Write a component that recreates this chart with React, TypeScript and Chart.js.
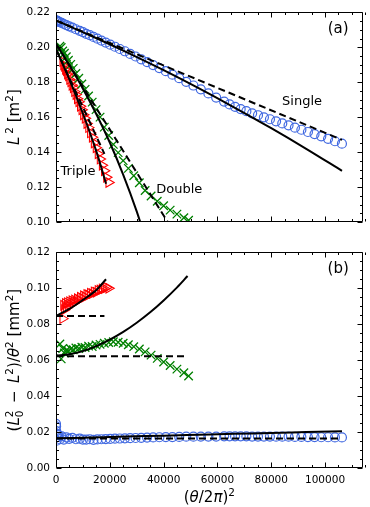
import React, { useEffect, useRef } from 'react';
import { Chart, registerables } from 'chart.js';
Chart.register(...registerables);

const FONT = '"DejaVu Sans", "Liberation Sans", sans-serif';
const BLUE = '#4169e1';
const GREEN = '#008000';
const RED = '#ff0000';

// ---------------- data: Single ----------------
const singleX = [4, 36, 100, 196, 324, 576, 900, 1444, 2116, 2916, 3844, 4900, 6084, 7396, 8836, 10000,
  11236, 12544, 13924, 15376, 16900, 18496, 20164, 21904, 23716, 25600, 27556, 29584, 31684, 33856, 36100, 38416, 40804, 43264, 45796, 48400, 51076, 53824, 56644, 59536,
  62500, 64516, 66564, 68644, 70756, 72900, 75076, 77284, 79524, 81796, 84100, 86436, 88804, 91204, 93636, 96100, 98596, 101124, 103684, 106276];
const singleL2 = [0.2153, 0.2153, 0.2152, 0.2152, 0.2151, 0.2149, 0.2147, 0.2143, 0.2139, 0.2133, 0.2127, 0.2120, 0.2112, 0.2103, 0.2094, 0.2086,
  0.2077, 0.2069, 0.2059, 0.2049, 0.2038, 0.2027, 0.2015, 0.2003, 0.1990, 0.1977, 0.1962, 0.1947, 0.1931, 0.1915, 0.1898, 0.1881, 0.1863, 0.1843, 0.1823, 0.1802, 0.1781, 0.1759, 0.1736, 0.1712,
  0.1689, 0.1673, 0.1659, 0.1646, 0.1634, 0.1622, 0.1611, 0.1599, 0.1588, 0.1576, 0.1564, 0.1553, 0.1540, 0.1528, 0.1515, 0.1503, 0.1490, 0.1476, 0.1462, 0.1448];
const singleRatio = [0.0245, 0.0232, 0.0205, 0.0152, 0.0190, 0.0172, 0.0183, 0.0160, 0.0176, 0.0158, 0.0170, 0.0162, 0.0168, 0.0160, 0.0163, 0.0158,
  0.0158, 0.0160, 0.0157, 0.0159, 0.0160, 0.0161, 0.0162, 0.0163, 0.0164, 0.0165, 0.0166, 0.0167, 0.0168, 0.0169, 0.0170, 0.0171, 0.0172, 0.0172, 0.0173, 0.0174, 0.0174, 0.0175, 0.0175, 0.0175,
  0.0176, 0.0176, 0.0176, 0.0176, 0.0176, 0.0175, 0.0175, 0.0175, 0.0175, 0.0174, 0.0174, 0.0174, 0.0173, 0.0173, 0.0172, 0.0172, 0.0171, 0.0171, 0.0170, 0.0170];
const singleCurveX = [0, 13000, 26000, 40000, 53000, 66000, 80000, 93000, 106300];
const singleCurveA = [0.2153, 0.2066, 0.1974, 0.1869, 0.1766, 0.1658, 0.1537, 0.1419, 0.1293];
const singleCurveB = [0.0165, 0.0170, 0.0175, 0.0180, 0.0185, 0.0190, 0.0195, 0.0200, 0.0205];
const singleLineX = [0, 106300];
const singleLineA = [0.2153, 0.1470];
const singleLineB = [0.0164, 0.0164];

// ---------------- data: Double ----------------
const doubleX = [1444, 1936, 2500, 3136, 3844, 4624, 5476, 6400, 7396, 8464, 9604, 10816, 12100, 13456, 14884, 16384,
  17956, 19600, 21316, 23104, 24964, 26896, 28900, 30976, 33124, 35344, 37636, 40000, 42436, 44944, 47524, 49284];
const doubleL2 = [0.2006, 0.1999, 0.1979, 0.1966, 0.1946, 0.1926, 0.1902, 0.1879, 0.1850, 0.1823, 0.1790, 0.1759, 0.1721, 0.1686, 0.1643, 0.1600,
  0.1543, 0.1495, 0.1444, 0.1397, 0.1351, 0.1307, 0.1265, 0.1225, 0.1180, 0.1149, 0.1119, 0.1093, 0.1068, 0.1045, 0.1024, 0.1010];
const doubleRatio = [0.0690, 0.0607, 0.0665, 0.0640, 0.0655, 0.0650, 0.0662, 0.0658, 0.0668, 0.0665, 0.0672, 0.0670, 0.0678, 0.0676, 0.0684, 0.0688,
  0.0694, 0.0698, 0.0702, 0.0700, 0.0694, 0.0686, 0.0675, 0.0662, 0.0646, 0.0628, 0.0610, 0.0590, 0.0570, 0.0550, 0.0530, 0.0512];
const doubleCurveAX = [0, 5000, 10000, 15000, 20000, 25000, 30000, 33000];
const doubleCurveA = [0.2020, 0.1895, 0.1763, 0.1617, 0.1455, 0.1270, 0.1061, 0.0918];
const doubleCurveBX = [0, 5000, 10000, 15000, 20000, 25000, 30000, 35000, 40000, 45000, 48900];
const doubleCurveB = [0.0625, 0.0633, 0.0650, 0.0678, 0.0714, 0.0757, 0.0808, 0.0866, 0.0932, 0.1005, 0.1068];
const doubleLineX = [0, 48900];
const doubleLineA = [0.2020, 0.0819];
const doubleLineB = [0.0622, 0.0622];

// ---------------- data: Triple ----------------
const tripleX = [2500, 2809, 3136, 3481, 3844, 4225, 4624, 5041, 5476, 5929, 6400, 6889, 7396, 7921, 8464, 9025,
  9604, 10201, 10816, 11449, 12100, 12769, 13456, 14161, 14884, 15625, 16384, 17161, 17956, 18769, 19600];
const tripleL2 = [0.1918, 0.1900, 0.1891, 0.1874, 0.1865, 0.1847, 0.1836, 0.1816, 0.1803, 0.1782, 0.1768, 0.1746, 0.1730, 0.1705, 0.1688, 0.1662,
  0.1642, 0.1614, 0.1594, 0.1564, 0.1540, 0.1510, 0.1485, 0.1452, 0.1425, 0.1391, 0.1360, 0.1325, 0.1293, 0.1256, 0.1226];
const tripleRatio = [0.0831, 0.0905, 0.0880, 0.0915, 0.0890, 0.0920, 0.0900, 0.0925, 0.0910, 0.0930, 0.0918, 0.0935, 0.0925, 0.0942, 0.0935, 0.0950,
  0.0945, 0.0958, 0.0952, 0.0965, 0.0962, 0.0972, 0.0970, 0.0980, 0.0978, 0.0988, 0.0990, 0.0996, 0.0998, 0.1004, 0.1000];
const tripleCurveX = [0, 5000, 10000, 15000, 18600];
const tripleCurveA = [0.1990, 0.1815, 0.1621, 0.1404, 0.1219];
const tripleCurveB = [0.0846, 0.0885, 0.0935, 0.0990, 0.1050];
const tripleLineX = [0, 18000];
const tripleLineA = [0.1990, 0.1390];
const tripleLineB = [0.0845, 0.0845];

// ---------------- axes ----------------
const xRange = [0, 114000];
const xTickVals = [0, 20000, 40000, 60000, 80000, 100000];
const yRangeA = [0.10, 0.22];
const yTickValsA = [0.10, 0.12, 0.14, 0.16, 0.18, 0.20, 0.22];
const yRangeB = [0.00, 0.12];
const yTickValsB = [0.00, 0.02, 0.04, 0.06, 0.08, 0.10, 0.12];
const seriesNames = ['Single', 'Double', 'Triple'];

// label anchors (data coords) for panel (a)
const nameAnchors = [
  { x: 91450, y: 0.1691 },
  { x: 45800, y: 0.1188 },
  { x: 8180, y: 0.1287 },
];

type Seg = { t: string; i?: boolean; pos?: 'sup' | 'sub'; hold?: boolean };

function drawRich(ctx: CanvasRenderingContext2D, segs: Seg[], cx: number, cy: number, size: number, rot: boolean) {
  const fontOf = (s: Seg) => `${s.i ? 'italic ' : ''}${s.pos ? size * 0.7 : size}px ${FONT}`;
  const ws = segs.map((s) => { ctx.font = fontOf(s); return ctx.measureText(s.t).width; });
  let total = 0;
  segs.forEach((s, k) => { if (!s.hold) total += ws[k]; });
  ctx.save();
  ctx.translate(cx, cy);
  if (rot) ctx.rotate(-Math.PI / 2);
  ctx.fillStyle = '#000';
  ctx.textAlign = 'left';
  ctx.textBaseline = 'alphabetic';
  let x = -total / 2;
  const base = size * 0.36;
  segs.forEach((s, k) => {
    ctx.font = fontOf(s);
    const dy = s.pos === 'sup' ? -size * 0.42 : s.pos === 'sub' ? size * 0.22 : 0;
    ctx.fillText(s.t, x, base + dy);
    if (!s.hold) x += ws[k];
  });
  ctx.restore();
}

const titleA: Seg[] = [{ t: 'L', i: true }, { t: '\u2009' }, { t: '2', pos: 'sup' }, { t: ' [m' }, { t: '2', pos: 'sup' }, { t: ']' }];
const titleB: Seg[] = [{ t: '(' }, { t: 'L', i: true }, { t: '0', pos: 'sub', hold: true }, { t: '2', pos: 'sup' }, { t: '\u2002\u2212\u2002' },
  { t: 'L', i: true }, { t: '2', pos: 'sup' }, { t: ')/' }, { t: '\u03b8', i: true }, { t: '2', pos: 'sup' }, { t: ' [mm' }, { t: '2', pos: 'sup' }, { t: ']' }];
const titleX: Seg[] = [{ t: '(' }, { t: '\u03b8', i: true }, { t: '/2' }, { t: '\u03c0', i: true }, { t: ')' }, { t: '2', pos: 'sup' }];

const decor = {
  id: 'decor',
  afterDraw(chart: any, _args: any, o: any) {
    const { ctx, chartArea: a, scales } = chart;
    const xs = scales.x;
    const ys = scales.y;
    ctx.save();
    ctx.strokeStyle = '#000';
    ctx.lineWidth = 1;
    const L = Math.round(a.left) + 0.5;
    const R = Math.round(a.right) - 0.5;
    const T = Math.round(a.top) + 0.5;
    const B = Math.round(a.bottom) - 0.5;
    ctx.beginPath();
    ctx.rect(L, T, R - L, B - T);
    const nx = Math.round((xs.max - xs.min) / 5000);
    for (let k = 0; k <= nx; k++) {
      const v = xs.min + k * 5000;
      const len = k % 4 === 0 ? 5 : 2.5;
      const p = Math.round(xs.getPixelForValue(v)) + 0.5;
      ctx.moveTo(p, B); ctx.lineTo(p, B - len);
      ctx.moveTo(p, T); ctx.lineTo(p, T + len);
    }
    const ny = Math.round((ys.max - ys.min) / 0.005);
    for (let k = 0; k <= ny; k++) {
      const v = ys.min + k * 0.005;
      const len = k % 4 === 0 ? 5 : 2.5;
      const p = Math.round(ys.getPixelForValue(v)) + 0.5;
      ctx.moveTo(L, p); ctx.lineTo(L + len, p);
      ctx.moveTo(R, p); ctx.lineTo(R - len, p);
    }
    ctx.stroke();

    ctx.fillStyle = '#000';
    ctx.textAlign = 'center';
    ctx.textBaseline = 'middle';
    ctx.font = `15px ${FONT}`;
    ctx.fillText(o.panel, a.left + (a.right - a.left) * 0.92, a.top + (a.bottom - a.top) * 0.078);
    if (o.names) {
      ctx.font = `13px ${FONT}`;
      nameAnchors.forEach((n, k) => {
        ctx.fillText(seriesNames[k], xs.getPixelForValue(n.x), ys.getPixelForValue(n.y));
      });
    }
    drawRich(ctx, o.ytitle, 14, (a.top + a.bottom) / 2, 15, true);
    if (o.xtitle) drawRich(ctx, o.xtitle, (a.left + a.right) / 2, a.bottom + 29, 15, false);
    ctx.restore();
  },
};

const pts = (xs: number[], ys: number[]) => xs.map((x, k) => ({ x, y: ys[k] }));

function markers(d: any[], style: string, color: string, r: number, w: number, rot = 0) {
  return {
    data: d, showLine: false, pointStyle: style, pointRadius: r, pointRotation: rot,
    pointBorderColor: color, pointBackgroundColor: 'rgba(0,0,0,0)', pointBorderWidth: w,
    borderColor: color, backgroundColor: 'rgba(0,0,0,0)', clip: 0, order: 1,
  };
}
function fit(d: any[], dashed: boolean) {
  return {
    data: d, showLine: true, pointRadius: 0, borderColor: '#000', borderWidth: 2,
    borderDash: dashed ? [7, 4] : [], cubicInterpolationMode: 'monotone', fill: false, clip: 0, order: 0,
  };
}

function makeConfig(panel: 'a' | 'b') {
  const isA = panel === 'a';
  const datasets = isA ? [
    markers(pts(singleX, singleL2), 'circle', BLUE, 4.5, 1.2),
    markers(pts(doubleX, doubleL2), 'crossRot', GREEN, 6, 1.3),
    markers(pts(tripleX, tripleL2), 'triangle', RED, 5.5, 1.1, 90),
    fit(pts(singleCurveX, singleCurveA), false), fit(pts(singleLineX, singleLineA), true),
    fit(pts(doubleCurveAX, doubleCurveA), false), fit(pts(doubleLineX, doubleLineA), true),
    fit(pts(tripleCurveX, tripleCurveA), false), fit(pts(tripleLineX, tripleLineA), true),
  ] : [
    markers(pts(singleX, singleRatio), 'circle', BLUE, 4.5, 1.2),
    markers(pts(doubleX, doubleRatio), 'crossRot', GREEN, 6, 1.3),
    markers(pts(tripleX, tripleRatio), 'triangle', RED, 5.5, 1.1, 90),
    fit(pts(singleCurveX, singleCurveB), false), fit(pts(singleLineX, singleLineB), true),
    fit(pts(doubleCurveBX, doubleCurveB), false), fit(pts(doubleLineX, doubleLineB), true),
    fit(pts(tripleCurveX, tripleCurveB), false), fit(pts(tripleLineX, tripleLineB), true),
  ];
  const yr = isA ? yRangeA : yRangeB;
  const yt = isA ? yTickValsA : yTickValsB;
  return {
    type: 'scatter',
    data: { datasets },
    plugins: [decor],
    options: {
      responsive: false, animation: false, devicePixelRatio: 1, events: [],
      layout: { padding: { top: isA ? 5 : 11, right: 2, left: 0, bottom: 0 } },
      plugins: {
        legend: { display: false }, tooltip: { enabled: false },
        decor: { panel: isA ? '(a)' : '(b)', names: isA, ytitle: isA ? titleA : titleB, xtitle: isA ? null : titleX },
      },
      scales: {
        x: {
          type: 'linear', min: xRange[0], max: xRange[1],
          grid: { display: false, drawTicks: false }, border: { display: false },
          afterBuildTicks: (s: any) => { s.ticks = xTickVals.map((v) => ({ value: v })); },
          ticks: {
            display: !isA, autoSkip: false, maxRotation: 0, minRotation: 0,
            padding: 6, color: '#000', font: { family: FONT, size: 10.5 },
            callback: (v: any) => String(v),
          },
          afterFit: (s: any) => { s.height = isA ? 18 : 39; },
        },
        y: {
          type: 'linear', min: yr[0], max: yr[1],
          grid: { display: false, drawTicks: false }, border: { display: false },
          afterBuildTicks: (s: any) => { s.ticks = yt.map((v) => ({ value: v })); },
          ticks: {
            autoSkip: false, padding: 6, color: '#000', font: { family: FONT, size: 10.5 },
            callback: (v: any) => Number(v).toFixed(2),
          },
          afterFit: (s: any) => { s.width = 56; },
        },
      },
    },
  };
}

function Panel({ panel, top, height }: { panel: 'a' | 'b'; top: number; height: number }) {
  const ref = useRef<HTMLCanvasElement>(null);
  useEffect(() => {
    if (!ref.current) return;
    const chart = new Chart(ref.current, makeConfig(panel) as any);
    return () => chart.destroy();
  }, [panel]);
  return (
    <canvas ref={ref} width={370} height={height}
      style={{ position: 'absolute', left: 0, top, width: 370, height }} />
  );
}

export default function App() {
  return (
    <div style={{ position: 'absolute', left: 0, top: 0, width: 370, height: 507, background: '#fff' }}>
      <Panel panel="a" top={0} height={240} />
      <Panel panel="b" top={240} height={267} />
    </div>
  );
}
